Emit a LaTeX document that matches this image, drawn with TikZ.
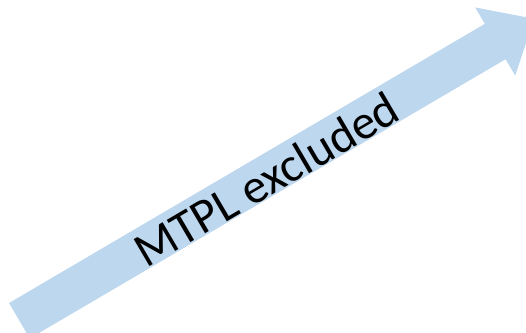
\documentclass[tikz,border=0pt]{standalone}
\usepackage{fontspec}
\setmainfont{Carlito}
\usepackage{xcolor}
\usepackage{tikz}
\definecolor{arrowblue}{HTML}{BDD7EE}

\begin{document}
\begin{tikzpicture}[x=1pt,y=1pt]
		\useasboundingbox (0,0) rectangle (526,332);
		\clip (0,0) rectangle (526,332);
	\begin{scope}[shift={(19.4,11.3)},rotate=30.4]
		\fill[arrowblue] (0,-20.5)--(551.7,-20.5)--(551.7,-39.5)--(596.7,0)--(551.7,39.5)--(551.7,20.5)--(0,20.5)--cycle;
		\node[transform shape,font=\fontsize{48.5}{52}\selectfont] (label) at (284.6,-3) {MTPL excluded};
	\end{scope}
	\end{tikzpicture}
\end{document}
